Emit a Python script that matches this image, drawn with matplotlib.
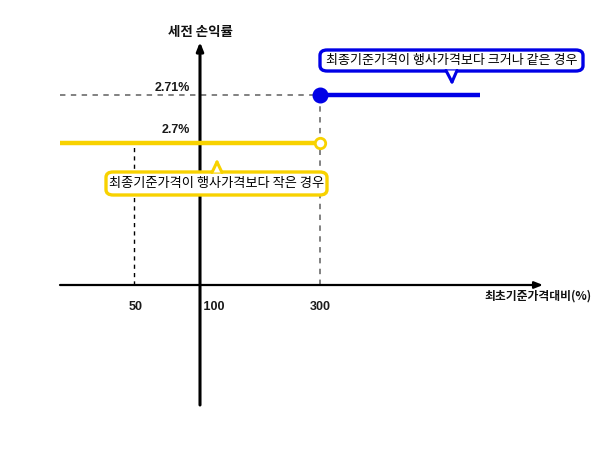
import numpy as np
import matplotlib
matplotlib.use("Agg")
import matplotlib.pyplot as plt
from matplotlib.patches import FancyBboxPatch, Polygon
from matplotlib.lines import Line2D

plt.rcParams['font.family'] = ['Noto Sans CJK KR', 'DejaVu Sans']

# ---- data ----
x_ticks = [50, 100, 300]
x_tick_labels = ['50', '100', '300']
strike = 300                      # 최종기준가격 threshold (%)
level_low = 2.70                  # 작은 경우
level_high = 2.71                 # 크거나 같은 경우
label_low = '2.7%'
label_high = '2.71%'
x_start, x_end_blue, x_axis_end = 0, 500, 600
y_axis_bottom, y_axis_top = -1.0, 2.76
callout_high = '최종기준가격이 행사가격보다 크거나 같은 경우'
callout_low = '최종기준가격이 행사가격보다 작은 경우'
ylabel = '세전 손익률'
xlabel = '최초기준가격대비(%)'

# schematic (non-linear) scales
XD = [-40, 0, 50, 100, 300, 500, 600, 700]
XP = [0, 60, 134, 200, 320, 480, 543, 600]
YD = [-1.5, -1.0, 0.0, 2.70, 2.71, 2.76, 2.80]
YP = [0, 45, 165, 307.5, 355, 408, 450]

def fx(v): return np.interp(v, XD, XP)
def ix(v): return np.interp(v, XP, XD)
def fy(v): return np.interp(v, YD, YP)
def iy(v): return np.interp(v, YP, YD)

fig = plt.figure(figsize=(6, 4.5), dpi=100)
ax = fig.add_axes([0, 0, 1, 1])
ax.set_xscale('function', functions=(fx, ix))
ax.set_yscale('function', functions=(fy, iy))
ax.set_xlim(XD[0], XD[-1])
ax.set_ylim(YD[0], YD[-1])
ax.axis('off')

# axes with arrows
ax.annotate('', xy=(x_axis_end, 0), xytext=(x_start, 0),
            arrowprops=dict(arrowstyle='-|>,head_length=0.5,head_width=0.2', color='black', lw=1.6, shrinkA=0, shrinkB=0))
ax.annotate('', xy=(100, y_axis_top), xytext=(100, y_axis_bottom),
            arrowprops=dict(arrowstyle='-|>,head_length=0.5,head_width=0.2', color='black', lw=2.2, shrinkA=0, shrinkB=0))

# guide lines
ax.plot([x_start, strike], [level_high, level_high], color='#777777', lw=1.3, ls=(0, (3, 3)), zorder=2)
ax.plot([strike, strike], [0, level_high], color='#777777', lw=1.3, ls=(0, (3, 3)), zorder=2)
ax.plot([x_ticks[0], x_ticks[0]], [0, level_low], color='black', lw=1.0, ls=(0, (3, 3)), zorder=2)

# payoff lines
yellow = '#F8D200'
blue = '#0000E6'
ax.plot([x_start, strike], [level_low, level_low], color=yellow, lw=3.2, solid_capstyle='butt', zorder=3)
ax.plot([strike, x_end_blue], [level_high, level_high], color=blue, lw=3.2, solid_capstyle='butt', zorder=3)
ax.plot([strike], [level_high], 'o', color=blue, ms=10.5, zorder=4)
ax.plot([strike], [level_low], 'o', mfc='white', mec=yellow, mew=2, ms=7.5, zorder=4)

# tick labels
num_font = dict(family=['Liberation Sans', 'DejaVu Sans'], fontweight='bold', fontsize=9, color='#1a1a1a')
for xv, lab in zip(x_ticks, x_tick_labels):
    if xv == 100:
        ax.text(xv, -0.185, ' ' + lab, ha='left', va='center', **num_font)
    elif xv == 50:
        ax.text(xv + 1, -0.185, lab, ha='center', va='center', **num_font)
    else:
        ax.text(xv, -0.185, lab, ha='center', va='center', **num_font)
ax.text(92.5, level_high + 0.0064, label_high, ha='right', va='center', **num_font)
ax.text(92.5, level_low + 0.0027, label_low, ha='right', va='center', **num_font)

ax.text(100, 2.7695, ylabel, ha='center', va='center', fontsize=9.7, fontweight='bold', color='#111111')
ax.text(686, -0.09, xlabel, ha='right', va='center', fontsize=8.5, fontweight='bold', color='#111111')

# callouts (figure pixel layout)
W, H = 600, 450
def fp(x, ytop):
    return (x / W, (H - ytop) / H)

def callout(x0, x1, y0, y1, color, text, tri, fs):
    (a, b) = fp(x0, y1)
    (c, d) = fp(x1, y0)
    box = FancyBboxPatch((a, b), c - a, d - b, boxstyle='round,pad=0,rounding_size=0.012',
                         transform=fig.transFigure, fc='white', ec=color, lw=2.4, zorder=10)
    fig.patches.append(box)
    pts = [fp(*p) for p in tri]
    poly = Polygon(pts, closed=True, transform=fig.transFigure, fc='white', ec='none', zorder=11)
    fig.patches.append(poly)
    for p, q in [(tri[0], tri[2]), (tri[1], tri[2])]:
        P, Q = fp(*p), fp(*q)
        fig.lines.append(Line2D([P[0], Q[0]], [P[1], Q[1]], transform=fig.transFigure,
                                color=color, lw=2.2, zorder=12, solid_capstyle='round'))
    cx, cy = fp((x0 + x1) / 2, (y0 + y1) / 2)
    fig.text(cx, cy, text, ha='center', va='center', fontsize=fs, color='black', zorder=13)

callout(320, 583, 50, 71, blue, callout_high, [(446, 70.5), (457, 70.5), (452, 82)], 9.4)
callout(106, 327, 172, 195, yellow, callout_low, [(212, 172.5), (222, 172.5), (217, 162)], 9.5)

fig.savefig('out.png', dpi=100)
